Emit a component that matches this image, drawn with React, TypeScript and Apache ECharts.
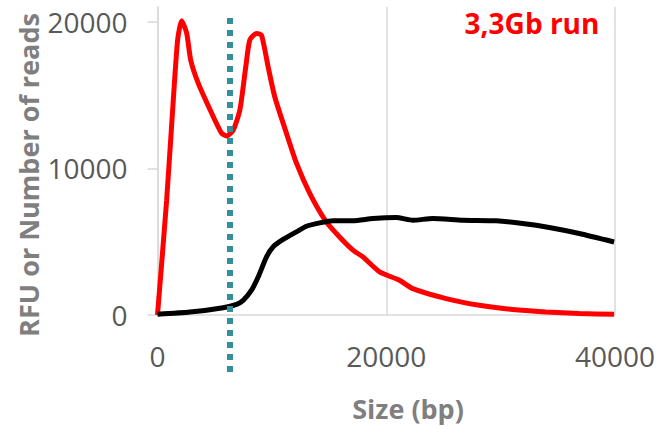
import React, { useEffect, useRef } from "react";
import * as echarts from "echarts";

const redX = [0, 800, 1380, 1760, 2110, 2550, 2900, 3560, 4730, 5600, 6040, 6620, 7200, 7720, 8070, 8650, 9090, 9670, 10250, 11270, 12150, 13310, 14760, 15920, 17090, 17960, 19420, 21160, 22320, 25240, 28140, 31050, 33960, 36870, 39920];
const redY = [0, 7830, 14650, 18750, 20070, 19230, 17390, 15810, 13770, 12400, 12200, 12600, 13970, 16930, 18750, 19200, 19090, 16930, 14880, 12400, 10350, 8300, 6350, 5320, 4420, 3960, 2940, 2370, 1800, 1120, 660, 370, 205, 95, 50];

const blackX = [0, 2840, 5740, 6910, 7490, 8220, 8800, 9530, 10100, 10980, 12150, 13020, 14180, 15340, 17090, 18830, 20870, 22320, 24070, 26690, 29600, 31920, 34250, 36870, 39920];
const blackY = [50, 200, 500, 730, 1000, 1690, 2590, 3960, 4640, 5150, 5670, 6050, 6280, 6420, 6420, 6580, 6650, 6460, 6580, 6460, 6420, 6240, 5970, 5560, 4980];

const cutoffX = [6340, 6340];
const cutoffY = [20250, -4160];

const yTicks = [0, 10000, 20000];
const xTicks = [0, 20000, 40000];

const titleText = "3,3Gb run";
const yTitle = "RFU or Number of reads";
const xTitle = "Size (bp)";

const FONT = "'Open Sans', 'Liberation Sans', sans-serif";

export default function App() {
  const ref = useRef<HTMLDivElement>(null);
  useEffect(() => {
    if (!ref.current) return;
    const chart = echarts.init(ref.current, null, { renderer: "svg" });
    chart.setOption({
      animation: false,
      backgroundColor: "#ffffff",
      grid: { left: 157.5, right: 45, top: 7, bottom: 111, containLabel: false },
      xAxis: {
        type: "value",
        min: 0,
        max: 40000,
        interval: 20000,
        axisLine: { show: true, lineStyle: { color: "#d9d9d9", width: 1.5 } },
        axisTick: { show: false },
        splitLine: { show: true, lineStyle: { color: "#d9d9d9", width: 1.5 } },
        axisLabel: {
          margin: 27,
          color: "#595959",
          fontSize: 28,
          fontFamily: FONT,
          customValues: xTicks,
          formatter: (v: number) => String(v),
        },
      },
      yAxis: {
        type: "value",
        min: 0,
        max: 21000,
        interval: 10000,
        axisLine: { show: true, lineStyle: { color: "#d9d9d9", width: 1.5 } },
        axisTick: { show: true, length: 10, lineStyle: { color: "#d9d9d9", width: 1.5 }, customValues: yTicks },
        splitLine: { show: false },
        axisLabel: {
          margin: 30,
          color: "#595959",
          fontSize: 28,
          fontFamily: FONT,
          customValues: yTicks,
          formatter: (v: number) => String(v),
        },
      },
      series: [
        {
          type: "line",
          data: redX.map((x, i) => [x, redY[i]]),
          showSymbol: false,
          symbol: "none",
          smooth: 0.2,
          lineStyle: { color: "#ff0000", width: 5 },
          silent: true,
        },
        {
          type: "line",
          data: blackX.map((x, i) => [x, blackY[i]]),
          showSymbol: false,
          symbol: "none",
          smooth: 0.2,
          lineStyle: { color: "#000000", width: 5 },
          silent: true,
        },
        {
          type: "line",
          data: cutoffX.map((x, i) => [x, cutoffY[i]]),
          showSymbol: false,
          symbol: "none",
          clip: false,
          lineStyle: { color: "#33909a", width: 6, type: [6, 6], cap: "butt" },
          silent: true,
          z: 5,
        },
      ],
      graphic: [
        {
          type: "text",
          x: 532,
          y: 23,
          style: {
            text: titleText,
            fill: "#ff0000",
            font: `bold 28px ${FONT}`,
            textAlign: "center",
            textVerticalAlign: "middle",
          },
        },
        {
          type: "text",
          x: 28,
          y: 175,
          rotation: Math.PI / 2,
          style: {
            text: yTitle,
            fill: "#7f7f7f",
            font: `bold 27px ${FONT}`,
            textAlign: "center",
            textVerticalAlign: "middle",
          },
        },
        {
          type: "text",
          x: 408,
          y: 408,
          style: {
            text: xTitle,
            fill: "#7f7f7f",
            font: `bold 27px ${FONT}`,
            textAlign: "center",
            textVerticalAlign: "middle",
          },
        },
      ],
    });
    return () => chart.dispose();
  }, []);
  return <div ref={ref} style={{ width: 660, height: 426, position: "absolute", left: 0, top: 0 }} />;
}
